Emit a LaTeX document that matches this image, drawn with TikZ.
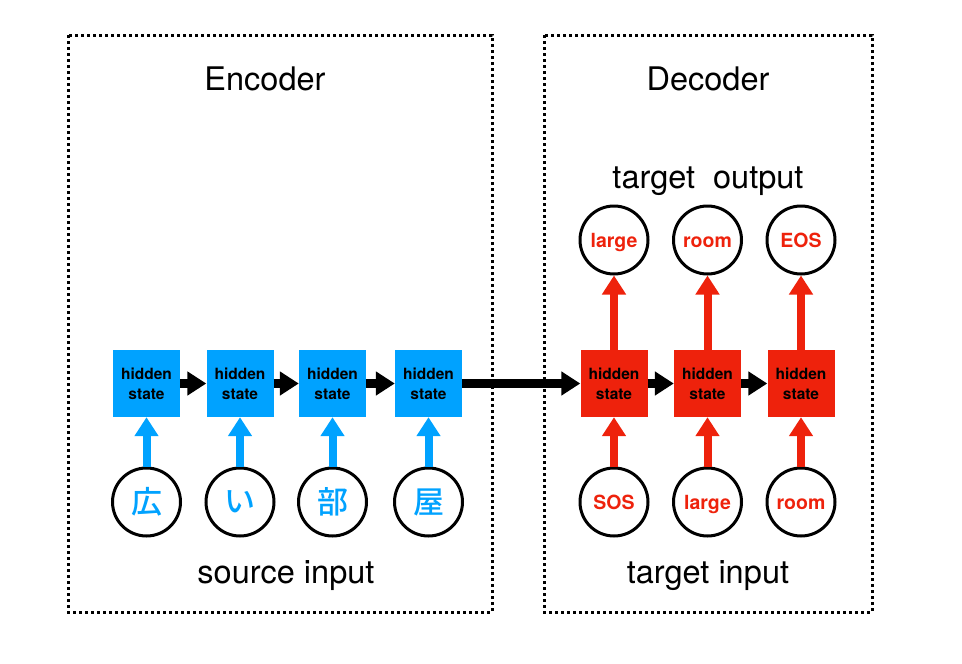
\documentclass[tikz,border=0pt]{standalone}
\usepackage{fontspec}
\setmainfont{TeX Gyre Heros}
\newfontfamily\cjk{Noto Sans CJK JP Medium}
\usepackage{tikz}
\usetikzlibrary{arrows.meta, positioning}
\definecolor{encblue}{HTML}{00A2FF}
\definecolor{decred}{HTML}{EE220C}

\begin{document}
\begin{tikzpicture}[x=1pt, y=-1pt,
    frame/.style={draw, line width=3pt, dash pattern=on 3pt off 3pt},
    title/.style={text depth=0pt, font=\fontsize{32.5}{36}\selectfont},
    hstate/.style={rectangle, minimum size=67pt, inner sep=0pt, align=center,
                   font=\fontsize{15.5}{20}\selectfont\bfseries},
    word/.style={circle, draw, line width=3pt, minimum size=68pt, inner sep=0pt,
                 text height=14pt, text depth=0pt,
                 font=\fontsize{19.5}{22}\selectfont\bfseries, text=decred},
    kanji/.style={word, text=encblue, text height=, text depth=, font=\fontsize{31}{32}\selectfont\cjk},
    flow/.style={line width=9pt, -{Triangle[width=23pt,length=19pt]}}
  ]
    \useasboundingbox (0,0) rectangle (962,664);
    % frames
    \draw[frame] (68,35) rectangle (492,612);
    \draw[frame] (544,35) rectangle (872,612);
    \node (enctitle) at (265,79) [title] {Encoder};
    \node (dectitle) at (708,79) [title] {Decoder};
    \node (tgtout)   at (708,178) [title] {target\ \ output};
    \node (srcin)    at (286,572) [title] {source input};
    \node (tgtin)    at (708,572) [title] {target input};

    % encoder
    \node (enc1) at (146.5,383.5) [hstate, fill=encblue] {hidden\\state};
    \node (enc2) at (240,383.5)   [hstate, fill=encblue] {hidden\\state};
    \node (enc3) at (332.5,383.5) [hstate, fill=encblue] {hidden\\state};
    \node (enc4) at (428.5,383.5) [hstate, fill=encblue] {hidden\\state};
    \node (src1) at (146.5,502) [kanji] {広};
    \node (src2) at (240,502)   [kanji] {い};
    \node (src3) at (332.5,502) [kanji] {部};
    \node (src4) at (428.5,502) [kanji] {屋};
    \draw[flow] (enc1) -- (enc2);
    \draw[flow] (enc2) -- (enc3);
    \draw[flow] (enc3) -- (enc4);
    \draw[flow, encblue, line width=8pt] (src1) -- (enc1);
    \draw[flow, encblue, line width=8pt] (src2) -- (enc2);
    \draw[flow, encblue, line width=8pt] (src3) -- (enc3);
    \draw[flow, encblue, line width=8pt] (src4) -- (enc4);

    % decoder
    \node (dec1) at (614,383.5)   [hstate, fill=decred] {hidden\\state};
    \node (dec2) at (707.5,383.5) [hstate, fill=decred] {hidden\\state};
    \node (dec3) at (801,383.5)   [hstate, fill=decred] {hidden\\state};
    \node (tin1) at (614,502)   [word] {SOS};
    \node (tin2) at (707.5,502) [word] {large};
    \node (tin3) at (801,502)   [word] {room};
    \node (tout1) at (614,240)   [word] {large};
    \node (tout2) at (707.5,240) [word] {room};
    \node (tout3) at (801,240)   [word] {EOS};
    \draw[flow] (enc4) -- (dec1);
    \draw[flow] (dec1) -- (dec2);
    \draw[flow] (dec2) -- (dec3);
    \draw[flow, decred, line width=8pt] (tin1) -- (dec1);
    \draw[flow, decred, line width=8pt] (tin2) -- (dec2);
    \draw[flow, decred, line width=8pt] (tin3) -- (dec3);
    \draw[flow, decred, line width=8pt] (dec1) -- (tout1);
    \draw[flow, decred, line width=8pt] (dec2) -- (tout2);
    \draw[flow, decred, line width=8pt] (dec3) -- (tout3);
\end{tikzpicture}
\end{document}
